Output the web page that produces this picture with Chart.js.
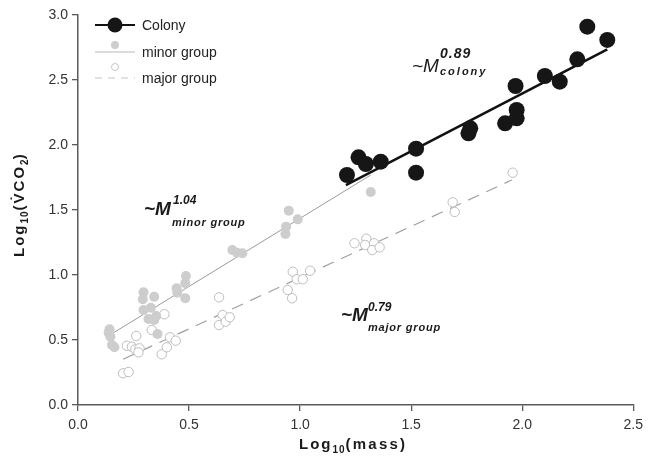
<!DOCTYPE html>
<html>
<head>
<meta charset="utf-8">
<title>Log10 VCO2 vs mass</title>
<script src="https://cdn.jsdelivr.net/npm/chart.js@4.4.1/dist/chart.umd.min.js"></script>
<style>
  body { margin: 0; background: #fff; }
  canvas { display: block; }
</style>
</head>
<body>
<canvas id="scalingChart" width="649" height="461"></canvas>
<script>
// Data (log10 mass, log10 VCO2)
const colonyX = [1.211, 1.263, 1.296, 1.363, 1.522, 1.522, 1.766, 1.758, 1.923, 1.975, 1.975, 1.970, 2.102, 2.169, 2.248, 2.293, 2.383];
const colonyY = [1.769, 1.905, 1.854, 1.872, 1.972, 1.787, 2.128, 2.090, 2.167, 2.269, 2.205, 2.454, 2.531, 2.487, 2.659, 2.910, 2.808];

const minorX = [0.142, 0.138, 0.146, 0.153, 0.164, 0.295, 0.292, 0.343, 0.295, 0.328, 0.317, 0.352, 0.343, 0.358,
                0.444, 0.447, 0.483, 0.486, 0.483, 0.695, 0.716, 0.740, 0.949, 0.989, 0.937, 0.934, 1.318];
const minorY = [0.582, 0.556, 0.525, 0.462, 0.444, 0.867, 0.813, 0.833, 0.731, 0.748, 0.662, 0.685, 0.654, 0.546,
                0.898, 0.864, 0.821, 0.992, 0.936, 1.192, 1.172, 1.167, 1.495, 1.428, 1.372, 1.315, 1.638];

const majorX = [0.203, 0.228, 0.220, 0.243, 0.262, 0.258, 0.277, 0.272, 0.332, 0.389, 0.377, 0.400, 0.414, 0.440,
                0.635, 0.651, 0.635, 0.665, 0.683, 0.967, 1.045, 0.985, 1.012, 0.944, 0.964,
                1.245, 1.298, 1.293, 1.333, 1.325, 1.358, 1.687, 1.696, 1.957];
const majorY = [0.244, 0.254, 0.456, 0.448, 0.531, 0.428, 0.436, 0.405, 0.577, 0.698, 0.390, 0.444, 0.521, 0.495,
                0.828, 0.692, 0.615, 0.641, 0.675, 1.025, 1.033, 0.967, 0.967, 0.885, 0.821,
                1.244, 1.279, 1.231, 1.244, 1.192, 1.213, 1.559, 1.485, 1.787];

// Fitted lines, end points
const colonyFitX = [1.206, 2.383];
const colonyFitY = [1.692, 2.736];
const minorFitX = [0.160, 1.318];
const minorFitY = [0.556, 1.769];
const majorFitX = [0.203, 1.953];
const majorFitY = [0.352, 1.731];

// Axis ticks
const xTicks = ['0.0', '0.5', '1.0', '1.5', '2.0', '2.5'];
const yTicks = ['0.0', '0.5', '1.0', '1.5', '2.0', '2.5', '3.0'];

const toPoints = (xs, ys) => xs.map((x, i) => ({ x: x, y: ys[i] }));

const FONT = '"Liberation Sans", Arial, sans-serif';

// Draws a run of text pieces one after the other
function drawRuns(ctx, x, y, runs) {
    let cx = x;
    runs.forEach(r => {
        ctx.font = r.font;
        ctx.letterSpacing = (r.ls || 0) + 'px';
        ctx.fillText(r.text, cx, y + (r.dy || 0));
        cx += ctx.measureText(r.text).width;
    });
    ctx.letterSpacing = '0px';
}

const overlay = {
    id: 'overlay',
    afterDraw(chart) {
        const ctx = chart.ctx;
        ctx.save();
        ctx.fillStyle = '#1a1a1a';
        ctx.textBaseline = 'alphabetic';
        ctx.textAlign = 'left';

        // legend
        ctx.strokeStyle = '#111';
        ctx.lineWidth = 2;
        ctx.beginPath(); ctx.moveTo(95, 25); ctx.lineTo(135, 25); ctx.stroke();
        ctx.beginPath(); ctx.arc(115, 25, 7.5, 0, Math.PI * 2); ctx.fillStyle = '#161616'; ctx.fill();

        ctx.strokeStyle = '#d0d0d0';
        ctx.lineWidth = 1.5;
        ctx.beginPath(); ctx.moveTo(95, 52); ctx.lineTo(135, 52); ctx.stroke();
        ctx.beginPath(); ctx.arc(115, 45, 4, 0, Math.PI * 2); ctx.fillStyle = '#cdcdcd'; ctx.fill();

        ctx.strokeStyle = '#c4c4c4';
        ctx.lineWidth = 1;
        ctx.setLineDash([7, 6]);
        ctx.beginPath(); ctx.moveTo(95, 78); ctx.lineTo(135, 78); ctx.stroke();
        ctx.setLineDash([]);
        ctx.beginPath(); ctx.arc(115, 67, 3.5, 0, Math.PI * 2);
        ctx.fillStyle = '#fff'; ctx.fill(); ctx.stroke();

        ctx.fillStyle = '#222';
        ctx.font = '14px ' + FONT;
        ctx.textBaseline = 'middle';
        ctx.fillText('Colony', 142, 26);
        ctx.fillText('minor group', 142, 53);
        ctx.fillText('major group', 142, 79);
        ctx.textBaseline = 'alphabetic';

        // scaling exponents
        ctx.fillStyle = '#1a1a1a';
        drawRuns(ctx, 412, 72, [{ text: '~M', font: 'italic 19px ' + FONT }]);
        drawRuns(ctx, 440, 58, [{ text: '0.89', font: 'bold italic 14px ' + FONT, ls: 1 }]);
        drawRuns(ctx, 440, 75, [{ text: 'colony', font: 'bold italic 11px ' + FONT, ls: 2 }]);

        drawRuns(ctx, 144, 215, [{ text: '~M', font: 'bold italic 19px ' + FONT }]);
        drawRuns(ctx, 173, 204, [{ text: '1.04', font: 'bold italic 12px ' + FONT }]);
        drawRuns(ctx, 172, 226, [{ text: 'minor group', font: 'bold italic 11px ' + FONT, ls: 0.8 }]);

        drawRuns(ctx, 341, 321, [{ text: '~M', font: 'bold italic 19px ' + FONT }]);
        drawRuns(ctx, 368, 311, [{ text: '0.79', font: 'bold italic 12px ' + FONT }]);
        drawRuns(ctx, 368, 331, [{ text: 'major group', font: 'bold italic 11px ' + FONT, ls: 0.8 }]);

        // axis titles
        const big = 'bold 15px ' + FONT;
        const small = 'bold 10px ' + FONT;
        drawRuns(ctx, 299, 449, [
            { text: 'Log', font: big, ls: 2 },
            { text: '10', font: small, ls: 1, dy: 4 },
            { text: '(mass)', font: big, ls: 2.2 }
        ]);

        ctx.translate(23.5, 257);
        ctx.rotate(-Math.PI / 2);
        drawRuns(ctx, 0, 0, [
            { text: 'Log', font: big, ls: 2 },
            { text: '10', font: small, ls: 1, dy: 4 },
            { text: '(V\u0307CO', font: big, ls: 2 },
            { text: '2', font: small, dy: 4 },
            { text: ')', font: big, ls: 2 }
        ]);
        ctx.restore();
    }
};

document.addEventListener('DOMContentLoaded', () => {
    const ctx = document.getElementById('scalingChart').getContext('2d');
    new Chart(ctx, {
        type: 'scatter',
        data: {
            datasets: [
                {
                    label: 'Colony',
                    data: toPoints(colonyX, colonyY),
                    pointRadius: 8,
                    backgroundColor: '#161616',
                    borderWidth: 0,
                    order: 0
                },
                {
                    label: 'Colony fit',
                    data: toPoints(colonyFitX, colonyFitY),
                    showLine: true,
                    pointRadius: 0,
                    borderColor: '#111',
                    borderWidth: 2.5,
                    order: 1
                },
                {
                    label: 'minor group',
                    data: toPoints(minorX, minorY),
                    pointRadius: 5,
                    backgroundColor: '#cdcdcd',
                    borderWidth: 0,
                    order: 2
                },
                {
                    label: 'major group',
                    data: toPoints(majorX, majorY),
                    pointRadius: 4.7,
                    backgroundColor: '#fff',
                    borderColor: '#bdbdbd',
                    borderWidth: 1,
                    order: 3
                },
                {
                    label: 'minor fit',
                    data: toPoints(minorFitX, minorFitY),
                    showLine: true,
                    pointRadius: 0,
                    borderColor: '#9a9a9a',
                    borderWidth: 1,
                    order: 4
                },
                {
                    label: 'major fit',
                    data: toPoints(majorFitX, majorFitY),
                    showLine: true,
                    pointRadius: 0,
                    borderColor: '#a0a0a0',
                    borderWidth: 1.2,
                    borderDash: [12, 8],
                    order: 5
                }
            ]
        },
        options: {
            responsive: false,
            animation: false,
            devicePixelRatio: 1,
            layout: { padding: { top: 15, right: 13, left: 0, bottom: 0 } },
            plugins: {
                legend: { display: false },
                tooltip: { enabled: false }
            },
            scales: {
                x: {
                    type: 'linear',
                    min: 0,
                    max: 2.5,
                    afterFit: s => { s.height = 56; },
                    grid: { drawOnChartArea: false, drawTicks: true, tickLength: 6, color: '#5a5a5a', lineWidth: 1.3 },
                    border: { color: '#5a5a5a', width: 1.5 },
                    ticks: {
                        stepSize: 0.5,
                        padding: 6,
                        color: '#333',
                        font: { family: FONT, size: 14 },
                        maxRotation: 0,
                        callback: (v, i) => xTicks[i]
                    }
                },
                y: {
                    type: 'linear',
                    min: 0,
                    max: 3,
                    afterFit: s => { s.width = 78; },
                    grid: { drawOnChartArea: false, drawTicks: true, tickLength: 6, color: '#5a5a5a', lineWidth: 1.3 },
                    border: { color: '#5a5a5a', width: 1.5 },
                    ticks: {
                        stepSize: 0.5,
                        padding: 4,
                        color: '#333',
                        font: { family: FONT, size: 14 },
                        callback: (v, i) => yTicks[i]
                    }
                }
            }
        },
        plugins: [overlay]
    });
});
</script>
</body>
</html>
